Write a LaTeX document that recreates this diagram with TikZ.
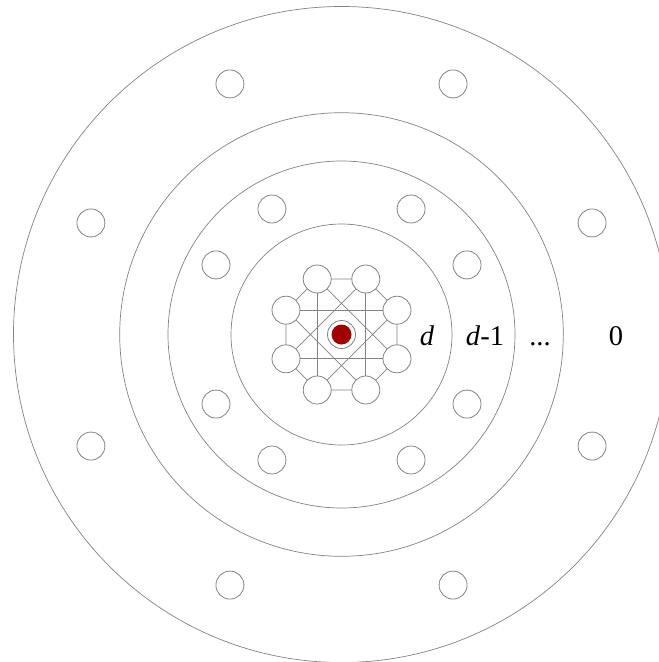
\documentclass[tikz,border=0pt]{standalone}
\usepackage{fontspec}
\setmainfont{Liberation Serif}
\usetikzlibrary{calc}
\definecolor{dred}{RGB}{160,0,0}
\definecolor{lgray}{RGB}{130,130,130}
\begin{document}
\begin{tikzpicture}[x=1pt,y=-1pt,
  ln/.style={draw=lgray, line width=0.7pt},
  vx/.style={circle, draw=lgray, line width=0.8pt, fill=white, minimum size=28pt, inner sep=0pt},
  lab/.style={font=\fontsize{28.5}{32}\selectfont, inner sep=0pt, anchor=base}]
\useasboundingbox (0,0) rectangle (659,662);
\coordinate (c) at (341.5,334.5);
% rings
\draw[ln] (c) circle[radius=110.5pt];
\draw[ln] (c) circle[radius=173.5pt];
\draw[ln] (c) circle[radius=221.8pt];
\draw[ln] (c) circle[radius=328pt];
% outer ring nodes
\foreach \a [count=\i] in {24,66,114,156,204,246,294,336}
  \node[vx] (o\i) at ($(c)+(\a:274.3pt)$) {};
% middle ring nodes
\foreach \a [count=\i] in {29,61,119,151,209,241,299,331}
  \node[vx] (m\i) at ($(c)+(\a:143.5pt)$) {};
% inner nodes
\node[vx] (i1) at ($(c)+(-24.3,-55.5)$) {};
\node[vx] (i2) at ($(c)+(24.3,-55.5)$) {};
\node[vx] (i3) at ($(c)+(55.5,-24.3)$) {};
\node[vx] (i4) at ($(c)+(55.5,24.3)$) {};
\node[vx] (i5) at ($(c)+(24.3,55.5)$) {};
\node[vx] (i6) at ($(c)+(-24.3,55.5)$) {};
\node[vx] (i7) at ($(c)+(-55.5,24.3)$) {};
\node[vx] (i8) at ($(c)+(-55.5,-24.3)$) {};
% edges
\draw[ln] (i1)--(i2) (i2)--(i3) (i3)--(i4) (i4)--(i5) (i5)--(i6) (i6)--(i7) (i7)--(i8) (i8)--(i1);
\draw[ln] (i1)--(i6) (i2)--(i5) (i8)--(i3) (i7)--(i4);
\draw[ln] (i1)--(i4) (i2)--(i7) (i8)--(i5) (i3)--(i6);
% centre
\node[vx] (ctr) at (c) {};
\node[circle, fill=dred, minimum size=20pt, inner sep=0pt] (core) at (c) {};
% labels
\node[lab] (ld) at (427,345) {\textit{d}};
\node[lab] (ld1) at (485,345) {\textit{d}-1};
\node[lab] (ldots) at (540,345) {...};
\node[lab] (l0) at (616,345) {0};
\end{tikzpicture}
\end{document}
